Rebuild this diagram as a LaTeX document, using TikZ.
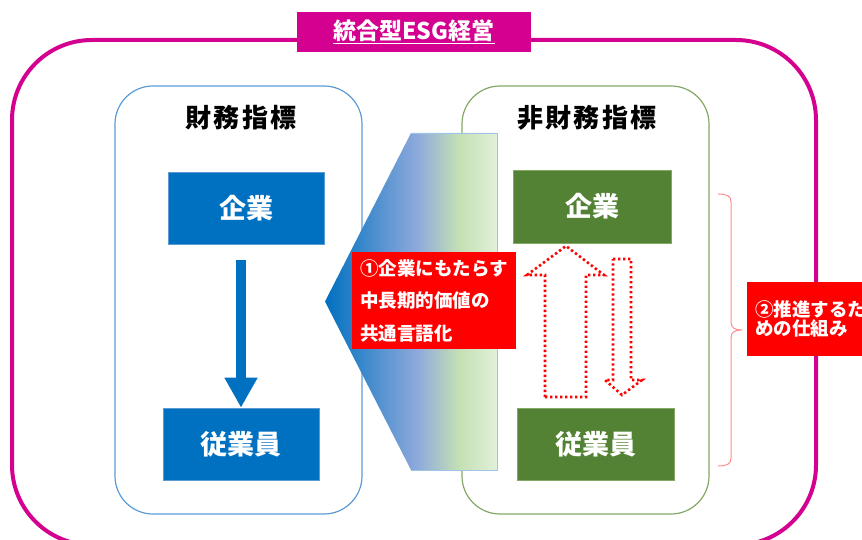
\documentclass[tikz,border=0pt]{standalone}
\usepackage{fontspec}
\setmainfont{Noto Sans CJK JP}
\usetikzlibrary{arrows.meta,calc}
\definecolor{mag}{HTML}{D4008F}
\definecolor{bluefill}{HTML}{0070C0}
\definecolor{greenfill}{HTML}{548235}
\definecolor{frameblue}{HTML}{5B9BD5}
\definecolor{framegreen}{HTML}{84A866}
\definecolor{gA}{HTML}{0070C0}
\definecolor{gB}{HTML}{8FAADC}
\definecolor{gC}{HTML}{C5E0B4}
\definecolor{gD}{HTML}{E2F0D9}
\definecolor{gborder}{HTML}{9DC3E6}
\definecolor{bracecol}{HTML}{FF8C8C}
\definecolor{redfill}{HTML}{FF0000}
\pgfdeclarehorizontalshading{gradshade}{100bp}{color(0bp)=(gA); color(25bp)=(gA); color(52bp)=(gB); color(64bp)=(gC); color(75bp)=(gD); color(100bp)=(gD)}
\tikzset{
  frame/.style={line width=1.2pt, rounded corners=38pt, minimum width=247pt, minimum height=428pt, inner sep=0pt},
  heading/.style={font=\fontsize{26pt}{30pt}\selectfont\bfseries\addfontfeature{LetterSpace=8}, text=black},
  boxtxt/.style={font=\fontsize{27pt}{31pt}\selectfont\bfseries, text=white, inner sep=0pt},
  bluebox/.style={boxtxt, fill=bluefill, draw=frameblue, line width=0.6pt},
  greenbox/.style={boxtxt, fill=greenfill, draw=framegreen, line width=0.6pt},
  redbox/.style={fill=redfill, text=white, inner sep=0pt},
  dotarrow/.style={draw=red, line width=2.6pt, dash pattern=on 2.4pt off 2.6pt},
}
\begin{document}
\begin{tikzpicture}[x={(1pt,0)}, y={(0,-1pt)}]
\useasboundingbox (0,0) rectangle (862,540);
\clip (0,0) rectangle (862,540);
% outer frame
\draw[mag, line width=4pt, rounded corners=80pt] (12,40) rectangle (816,545);
% title
\node[fill=mag, text=white, minimum width=234pt, minimum height=40pt, inner sep=0pt,
      font=\fontsize{23pt}{26pt}\selectfont\bfseries] (title) at (414,32) {\underline{統合型ESG経営}};
% frames
\node[frame, draw=frameblue] (lf) at (238.5,300) {};
\node[frame, draw=framegreen] (rf) at (585.5,300) {};
% headings
\node[heading] (h1) at (241,118) {財務指標};
\node[heading] (h2) at (587,118) {非財務指標};
% boxes
\node[bluebox, minimum width=156pt, minimum height=72pt] (bk1) at (246,208) {企業};
\node[bluebox, minimum width=156pt, minimum height=72pt] (bk2) at (241,444) {従業員};
\node[greenbox, minimum width=158pt, minimum height=73pt] (gk1) at (592,206.5) {企業};
\node[greenbox, minimum width=157pt, minimum height=72pt] (gk2) at (595.5,444) {従業員};
% blue arrow
\draw[bluefill, line width=10pt, -{Triangle[length=30pt,width=31pt]}]
  ($(bk1.south -| bk2.north)+(0,16)$) -- (bk2.north);
% gradient shape
\shade[shading=gradshade] (325,301.5) -- (411,133) -- (497,133) -- (497,470) -- (411,470) -- cycle;
\draw[gborder, line width=0.8pt] (411,133) -- (497,133) -- (497,470) -- (411,470);
% red box 1
\node[redbox, minimum width=164pt, minimum height=97pt, align=left,
      font=\fontsize{18.5pt}{32.5pt}\selectfont\bfseries] (r1) at (434,300.5)
      {①企業にもたらす\\中長期的価値の\\共通言語化};
% dotted arrows
\draw[dotarrow] (545,397) -- (545,275) -- (527,275) -- (566,246) -- (604,275) -- (586,275) -- (586,397) -- cycle;
\draw[dotarrow] (613,259) -- (631,259) -- (631,380) -- (642,380) -- (622,395) -- (605,380) -- (613,380) -- cycle;
% brace
\draw[bracecol, line width=1pt]
  (718,194) .. controls (727,194) and (731,196) .. (731,202) -- (731,322)
  .. controls (731,328) and (735,330) .. (742,330)
  .. controls (735,330) and (731,332) .. (731,338) -- (731,458)
  .. controls (731,464) and (727,466) .. (718,466);
% red box 2
\node[redbox, anchor=north west, minimum width=150pt, minimum height=74pt, text width=134pt,
      inner xsep=8pt, align=left, font=\fontsize{18.5pt}{19.5pt}\selectfont\bfseries] (r2) at (747,282)
      {②推進するた\\めの仕組み};
\end{tikzpicture}
\end{document}
